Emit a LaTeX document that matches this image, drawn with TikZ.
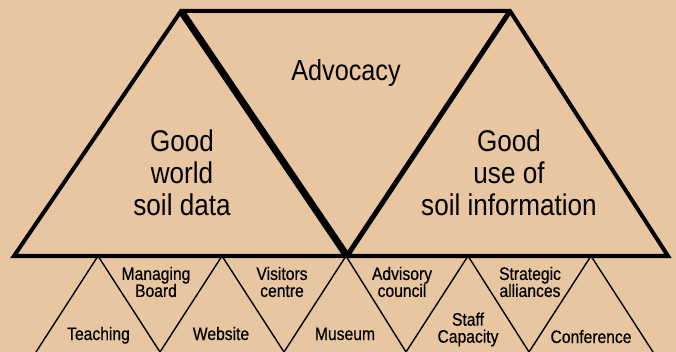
\documentclass[tikz,border=0pt]{standalone}
\usepackage{fontspec}
\setmainfont[FakeStretch=0.87]{Liberation Sans}
\newfontfamily\smallfont[FakeStretch=0.87,FakeBold=0.6]{Liberation Sans}
\definecolor{paper}{RGB}{233,198,162}
\begin{document}
\begin{tikzpicture}[x=1pt,y=-1pt,
  frame/.style={line width=4pt,line join=miter},
  zig/.style={line width=1.4pt,line join=miter},
  bigtext/.style={font=\fontsize{30}{32}\selectfont,align=center,inner sep=0pt},
  advtext/.style={font=\fontsize{29}{32}\selectfont,inner sep=0pt,anchor=base},
  smalltext/.style={font=\smallfont\fontsize{18}{17}\selectfont,align=center,inner sep=0pt}]
\fill[paper] (0,0) rectangle (676,352);
\useasboundingbox (0,0) rectangle (676,352);
\clip (0,0) rectangle (676,352);
% main vertices
\coordinate (L) at (14,256);
\coordinate (A) at (181,11);
\coordinate (M) at (347,256);
\coordinate (B) at (510,11);
\coordinate (R) at (668,256);
% zigzag vertices
\coordinate (v0) at (36,352);
\coordinate (p1) at (98,256);
\coordinate (v1) at (160,352);
\coordinate (p2) at (222,256);
\coordinate (v2) at (284,352);
\coordinate (p3) at (346,256);
\coordinate (v3) at (406,352);
\coordinate (p4) at (468,256);
\coordinate (v4) at (529,352);
\coordinate (p5) at (591,256);
\coordinate (v5) at (653,352);
\draw[zig] (v0) -- (p1) -- (v1) -- (p2) -- (v2) -- (p3) -- (v3) -- (p4) -- (v4) -- (p5) -- (v5);
% big frame
\draw[frame] (L) -- (A) -- (B) -- (R) -- cycle;
\draw[line width=7pt] (A) -- (M);
\draw[line width=5pt] (M) -- (B);
% texts
\node[advtext] (adv) at (346,81) {Advocacy};
\node[bigtext] (gw) at (182,173) {Good\\world\\soil data};
\node[bigtext] (gu) at (509,173) {Good\\use of\\soil information};
\node[smalltext] (mb) at (156,282) {Managing\\Board};
\node[smalltext] (vc) at (282,282) {Visitors\\centre};
\node[smalltext] (ac) at (402,282) {Advisory\\council};
\node[smalltext] (sa) at (530,282) {Strategic\\alliances};
\node[smalltext] (sc) at (468,329.5) {Staff\\Capacity};
\node[smalltext,anchor=base] (te) at (98.5,340) {Teaching};
\node[smalltext,anchor=base] (we) at (221,340) {Website};
\node[smalltext,anchor=base] (mu) at (345,340) {Museum};
\node[smalltext,anchor=base] (co) at (591,343) {Conference};
\end{tikzpicture}
\end{document}
